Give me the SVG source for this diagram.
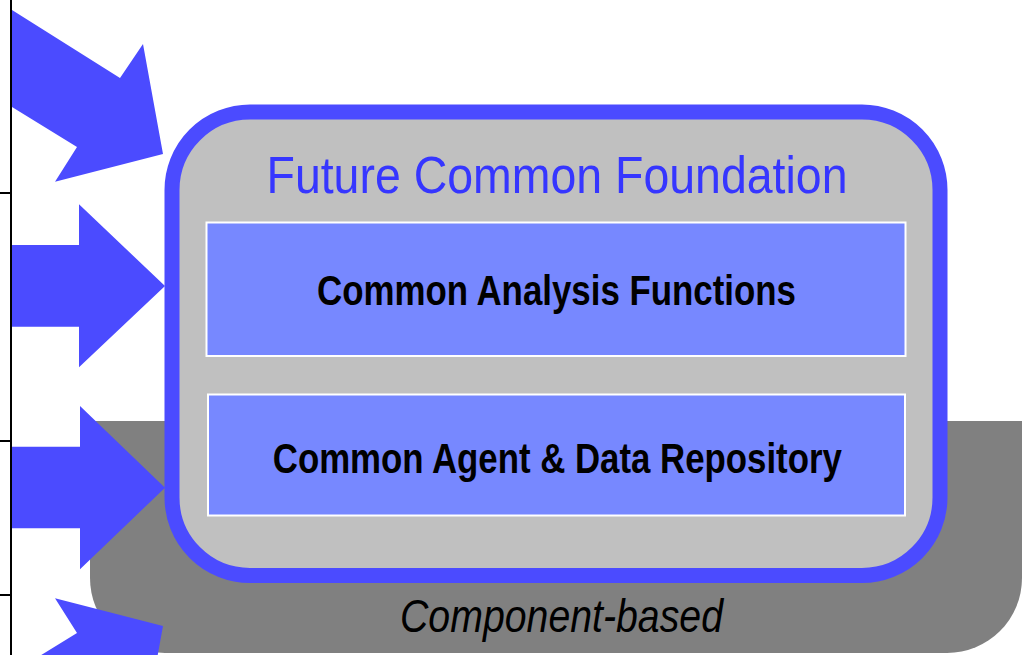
<svg xmlns="http://www.w3.org/2000/svg" width="1026" height="655" viewBox="0 0 1026 655">
<style>
.arrow{fill:#4b4bff}
.tick{stroke:#000;stroke-width:2;fill:none}
.box{fill:#7788ff;stroke:#ffffff;stroke-width:2}
.t-title{font-family:"Liberation Sans",Arial,sans-serif;font-size:52px;fill:#3636ff}
.t-box{font-family:"Liberation Sans",Arial,sans-serif;font-size:43px;font-weight:bold;fill:#000}
.t-base{font-family:"Liberation Sans",Arial,sans-serif;font-size:47px;font-style:italic;fill:#000}
</style>
<rect width="1026" height="655" fill="#ffffff"/>
<g id="axis">
<line class="tick" x1="11" y1="0" x2="11" y2="655"/>
<line class="tick" x1="0" y1="193" x2="11" y2="193"/>
<line class="tick" x1="0" y1="441" x2="11" y2="441"/>
<line class="tick" x1="0" y1="595" x2="11" y2="595"/>
</g>
<g id="component-based">
<path d="M90,421 H1022 V578 A75,75 0 0 1 947,653 H165 A75,75 0 0 1 90,578 Z" fill="#808080"/>
<text class="t-base" x="561.5" y="631.5" text-anchor="middle" textLength="323" lengthAdjust="spacingAndGlyphs">Component-based</text>
</g>
<g id="connectors">
<polygon class="arrow" points="12,10 120,78 143,44 163,154 55,181.7 77,147 12,107"/>
<polygon class="arrow" points="12,245 79,245 79,204.3 165,286 79,367.3 79,326.7 12,326.7"/>
<polygon class="arrow" points="12,446.7 80,446.7 80,406 165,487.7 80,569.3 80,528.3 12,528.3"/>
<polygon class="arrow" points="12,770 120,702 143,736 163,626 55,598.3 77,633 12,673"/>
</g>
<g id="foundation">
<rect x="172" y="112" width="768" height="463.5" rx="78" ry="78" fill="#c0c0c0" stroke="#4b4bff" stroke-width="15"/>
<text class="t-title" x="557" y="192.7" text-anchor="middle" textLength="581" lengthAdjust="spacingAndGlyphs">Future Common Foundation</text>
</g>
<g id="analysis">
<rect class="box" x="206.5" y="222.5" width="699" height="133.5"/>
<text class="t-box" x="556.5" y="305" text-anchor="middle" textLength="479" lengthAdjust="spacingAndGlyphs">Common Analysis Functions</text>
</g>
<g id="repository">
<rect class="box" x="208" y="394.5" width="697" height="121"/>
<text class="t-box" x="557.3" y="472.7" text-anchor="middle" textLength="569" lengthAdjust="spacingAndGlyphs">Common Agent &amp; Data Repository</text>
</g>
</svg>
